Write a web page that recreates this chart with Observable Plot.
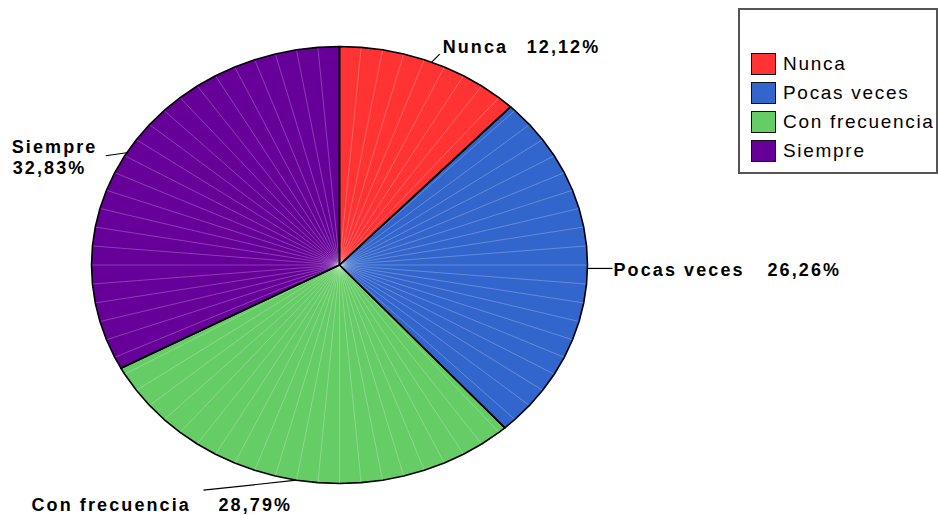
<!DOCTYPE html>
<html>
<head>
<meta charset="utf-8">
<script src="https://cdn.jsdelivr.net/npm/d3@7"></script>
<script src="https://cdn.jsdelivr.net/npm/@observablehq/plot@0.6"></script>
<style>
  html, body { margin: 0; padding: 0; background: #fff; }
  #wrap { position: relative; width: 938px; height: 515px; font-family: "Liberation Sans", Arial, sans-serif; }
  #legend { position: absolute; left: 738px; top: 8px; width: 200px; height: 166px; border: 2px solid #555; box-sizing: border-box; background: #fff; }
  .item { position: absolute; left: 11px; height: 22px; display: flex; align-items: center; }
  .sw { width: 25px; height: 22px; box-sizing: border-box; border: 1.5px solid #111; margin-right: 7px; }
  .lt { font-size: 19px; letter-spacing: 1.7px; color: #000; white-space: nowrap; }
  svg text { letter-spacing: 2.1px; }
</style>
</head>
<body>
<div id="wrap"></div>
<script>
// ---- data ----
const categories = ["Nunca", "Pocas veces", "Con frecuencia", "Siempre"];
const percents = [12.12, 26.26, 28.79, 32.83];
const percentLabels = ["12,12%", "26,26%", "28,79%", "32,83%"];
const colors = ["#FF3333", "#3366CC", "#66CC66", "#660099"];

// ---- layout ----
const W = 938, H = 515;
const cx = 339, cy = 264.5, rx = 248, ry = 218.5;
const step = 5; // degrees between polygon vertices
// leader line offsets (from slice edge midpoint) and label offsets relative to leader end
const leaderOffsets = [[8, -8], [25, 0], [-93, 10], [-21, 3]];
const nameOffsets = [[3, -1], [1, 8], [-172, 21], [-94, -3]];
const pctOffsets = [[87, -1], [155, 8], [15, 21], [-93, 18]];

const pt = a => {
  const r = a * Math.PI / 180;
  return [cx + rx * Math.sin(r), cy - ry * Math.cos(r)];
};

const cum = [0];
percents.forEach((p, i) => cum.push(cum[i] + p));
const total = cum[cum.length - 1];

const polys = [];
const spokes = [];
const leaders = [];
const labels = [];
categories.forEach((c, i) => {
  const a0 = cum[i] / total * 360, a1 = cum[i + 1] / total * 360;
  const angs = [a0];
  for (let a = Math.ceil(a0 / step + 1e-9) * step; a < a1 - 1e-9; a += step) angs.push(a);
  angs.push(a1);
  polys.push({cat: c, x: cx, y: cy});
  angs.forEach(a => { const [x, y] = pt(a); polys.push({cat: c, x, y}); });
  polys.push({cat: c, x: cx, y: cy});
  const am = (a0 + a1) / 2;
  const [mx, my] = pt(am);
  const ex = mx + leaderOffsets[i][0], ey = my + leaderOffsets[i][1];
  leaders.push({x1: mx, y1: my, x2: ex, y2: ey});
  labels.push({text: c, x: ex + nameOffsets[i][0], y: ey + nameOffsets[i][1]});
  labels.push({text: percentLabels[i], x: ex + pctOffsets[i][0], y: ey + pctOffsets[i][1]});
});
for (let a = 0; a < 360; a += step) {
  const [x, y] = pt(a);
  spokes.push({x1: cx, y1: cy, x2: x, y2: y});
}

const chart = Plot.plot({
  width: W, height: H, margin: 0,
  x: {domain: [0, W], range: [0, W], axis: null},
  y: {domain: [0, H], range: [0, H], axis: null},
  color: {domain: categories, range: colors},
  style: {fontFamily: '"Liberation Sans", Arial, sans-serif', background: "#fff"},
  marks: [
    Plot.line(polys, {x: "x", y: "y", z: "cat", fill: "cat", stroke: "none"}),
    Plot.link(spokes, {x1: "x1", y1: "y1", x2: "x2", y2: "y2", stroke: "#fff", strokeOpacity: 0.3, strokeWidth: 0.8}),
    Plot.line(polys, {x: "x", y: "y", z: "cat", fill: "none", stroke: "#000", strokeWidth: 1.6, strokeLinejoin: "round"}),
    Plot.link(leaders, {x1: "x1", y1: "y1", x2: "x2", y2: "y2", stroke: "#000", strokeWidth: 1.2}),
    Plot.text(labels, {x: "x", y: "y", text: "text", textAnchor: "start", lineAnchor: "bottom", dy: 0, fontSize: 18, fontWeight: "bold", fill: "#000"})
  ]
});

const wrap = document.getElementById("wrap");
wrap.appendChild(chart);

const legend = document.createElement("div");
legend.id = "legend";
categories.forEach((c, i) => {
  const it = document.createElement("div");
  it.className = "item";
  it.style.top = (43 + i * 29) + "px";
  const sw = document.createElement("div");
  sw.className = "sw";
  sw.style.background = colors[i];
  const t = document.createElement("span");
  t.className = "lt";
  t.textContent = c;
  it.appendChild(sw);
  it.appendChild(t);
  legend.appendChild(it);
});
wrap.appendChild(legend);
</script>
</body>
</html>
